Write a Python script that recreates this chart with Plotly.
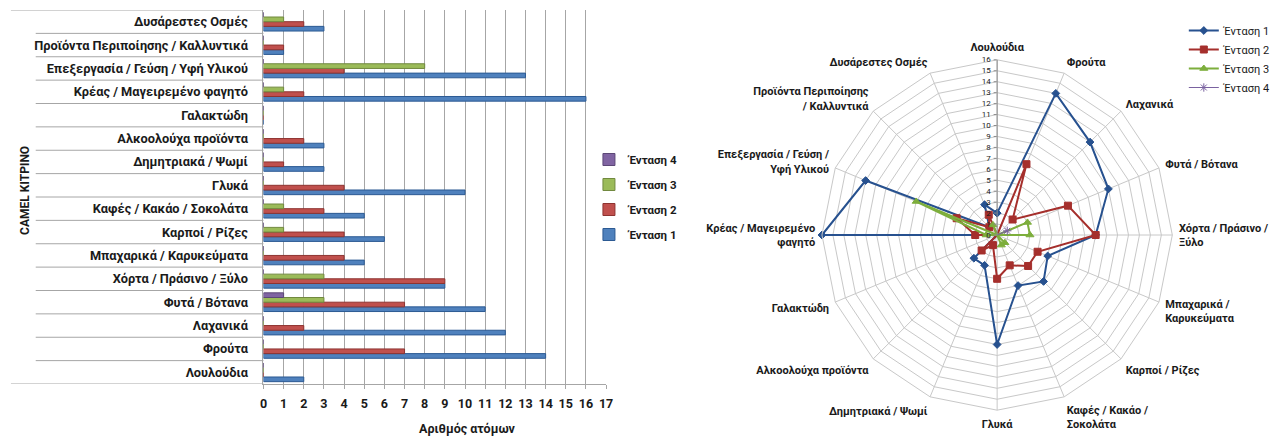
import plotly.graph_objects as go

W, H = 1285, 437

# Odour categories (bottom-to-top on the bar chart, clockwise from top on the radar)
categories = [
    "Λουλούδια", "Φρούτα", "Λαχανικά", "Φυτά / Βότανα",
    "Χόρτα / Πράσινο / Ξύλο", "Μπαχαρικά / Καρυκεύματα", "Καρποί / Ρίζες",
    "Καφές / Κακάο / Σοκολάτα", "Γλυκά", "Δημητριακά / Ψωμί",
    "Αλκοολούχα προϊόντα", "Γαλακτώδη", "Κρέας / Μαγειρεμένο φαγητό",
    "Επεξεργασία / Γεύση / Υφή Υλικού", "Προϊόντα Περιποίησης / Καλλυντικά",
    "Δυσάρεστες Οσμές",
]
# Radar spoke labels (line-broken versions of the categories)
radar_labels = [
    "Λουλούδια", "Φρούτα", "Λαχανικά", "Φυτά / Βότανα",
    "Χόρτα / Πράσινο /<br>Ξύλο", "Μπαχαρικά /<br>Καρυκεύματα", "Καρποί / Ρίζες",
    "Καφές / Κακάο /<br>Σοκολάτα", "Γλυκά", "Δημητριακά / Ψωμί",
    "Αλκοολούχα προϊόντα", "Γαλακτώδη", "Κρέας / Μαγειρεμένο<br>φαγητό",
    "Επεξεργασία / Γεύση /<br>Υφή Υλικού", "Προϊόντα Περιποίησης<br>/ Καλλυντικά",
    "Δυσάρεστες Οσμές",
]

entasi_1 = [2, 14, 12, 11, 9, 5, 6, 5, 10, 3, 3, 0, 16, 13, 1, 3]
entasi_2 = [0, 7, 2, 7, 9, 4, 4, 3, 4, 1, 2, 0, 2, 4, 1, 2]
entasi_3 = [0, 0, 0, 3, 3, 0, 1, 1, 0, 0, 0, 0, 1, 8, 0, 1]
entasi_4 = [0, 0, 0, 1, 0, 0, 0, 0, 0, 0, 0, 0, 0, 0, 0, 0]

series_names = ["Ένταση 1", "Ένταση 2", "Ένταση 3", "Ένταση 4"]
series_vals = [entasi_1, entasi_2, entasi_3, entasi_4]

bar_fill = ["#4F81BD", "#C0504D", "#9BBB59", "#8064A2"]
bar_edge = ["#2C5A93", "#8E3330", "#71893F", "#5C4776"]
line_col = ["#27518F", "#A52F2C", "#7DAE3C", "#7A62A0"]
marker_sym = ["diamond", "square", "triangle-up", "asterisk-open"]
marker_size = [6, 7, 7, 7]

FONT = "Roboto"
GRID = "#A6A6A6"

def px_x(v):
    return v / W

def px_y(v):
    return 1 - v / H

fig = go.Figure()

# Horizontal grouped bars (legend lists the highest intensity first)
for k, (name, vals, fc, ec) in enumerate(zip(series_names, series_vals, bar_fill, bar_edge)):
    fig.add_trace(go.Bar(
        y=categories, x=vals, name=name, orientation="h",
        marker=dict(color=fc, line=dict(color=ec, width=1)),
        legendgroup=name, legendrank=len(series_names) - k, legend="legend",
        xaxis="x", yaxis="y",
    ))

# Radar lines (closed polygons)
for name, vals, lc, sym, ms in zip(series_names, series_vals, line_col, marker_sym, marker_size):
    fig.add_trace(go.Scatterpolar(
        r=vals + vals[:1], theta=categories + categories[:1], name=name,
        mode="lines+markers",
        line=dict(color=lc, width=2 if name != "Ένταση 4" else 1.2),
        marker=dict(symbol=sym, size=ms, color=lc, line=dict(color=lc, width=1)),
        legend="legend2", subplot="polar",
    ))

plot_left, plot_right = 261.7, 607.3
plot_top, plot_bottom = 10, 384

# Category separator lines extending under the labels
shapes = []
for i in range(len(categories) + 1):
    edge = i == 0 or i == len(categories)
    shapes.append(dict(
        type="line", xref="paper", yref="y",
        x0=px_x(7 if edge else 32), x1=px_x(plot_left),
        y0=i - 0.5, y1=i - 0.5,
        line=dict(color=GRID, width=1),
    ))

fig.update_layout(
    width=W, height=H,
    margin=dict(l=0, r=0, t=0, b=0),
    paper_bgcolor="white", plot_bgcolor="white",
    font=dict(family=FONT, color="#1A1A1A"),
    barmode="group", bargap=0.2, bargroupgap=0,
    xaxis=dict(
        domain=[px_x(plot_left), px_x(plot_right)],
        range=[0, 17], dtick=1, tick0=0,
        showgrid=True, gridcolor=GRID, gridwidth=1,
        showline=True, linecolor=GRID,
        ticks="outside", ticklen=4, tickcolor=GRID,
        ticklabelstandoff=4,
        tickfont=dict(size=12.5, family=FONT, color="#1A1A1A", weight="bold"),
        zeroline=False, fixedrange=True,
    ),
    yaxis=dict(
        domain=[px_y(plot_bottom), px_y(plot_top)],
        type="category", range=[-0.5, 15.5],
        showgrid=False, showline=True, linecolor=GRID,
        ticks="", ticklabelstandoff=12,
        tickfont=dict(size=12.8, family=FONT, color="#1A1A1A", weight="bold"),
        fixedrange=True,
    ),
    polar=dict(
        domain=dict(x=[px_x(825), px_x(1178.4)], y=[px_y(411.7), px_y(58.3)]),
        gridshape="linear", bgcolor="white",
        radialaxis=dict(
            range=[0, 16], dtick=1, tick0=0, angle=90, side="counterclockwise",
            showline=True, linecolor="#8C8C8C", gridcolor="#C8C8C8",
            ticks="outside", ticklen=3, tickcolor="#8C8C8C",
            tickangle=90,
            tickfont=dict(size=8, family=FONT, color="#1A1A1A"),
        ),
        angularaxis=dict(
            direction="clockwise", rotation=90,
            categoryorder="array", categoryarray=categories,
            tickmode="array", tickvals=categories, ticktext=radar_labels,
            showline=True, linecolor="#C8C8C8", gridcolor="#C8C8C8",
            ticks="outside", ticklen=4, tickcolor="rgba(0,0,0,0)",
            tickfont=dict(size=11, family=FONT, color="#1A1A1A", weight="bold"),
        ),
    ),
    legend=dict(
        x=px_x(590), y=px_y(145), xanchor="left", yanchor="top",
        bgcolor="rgba(0,0,0,0)", traceorder="grouped", tracegroupgap=6,
        font=dict(size=11.5, family=FONT, color="#1A1A1A", weight="bold"),
        itemwidth=30,
    ),
    legend2=dict(
        x=px_x(1190), y=px_y(16), xanchor="left", yanchor="top",
        bgcolor="rgba(0,0,0,0)", tracegroupgap=4,
        font=dict(size=11, family=FONT, color="#1A1A1A"),
        itemwidth=30,
    ),
    shapes=shapes,
    annotations=[
        dict(text="<b>CAMEL KITPINO</b>", textangle=-90, xref="paper", yref="paper",
             x=px_x(12), y=px_y(190), showarrow=False,
             font=dict(size=12, family=FONT, color="#1A1A1A")),
        dict(text="<b>Αριθμός ατόμων</b>", xref="paper", yref="paper",
             x=px_x(416.5), y=px_y(428), yanchor="middle", showarrow=False,
             font=dict(size=12.5, family=FONT, color="#1A1A1A")),
    ],
)

fig.write_html("out.html")
